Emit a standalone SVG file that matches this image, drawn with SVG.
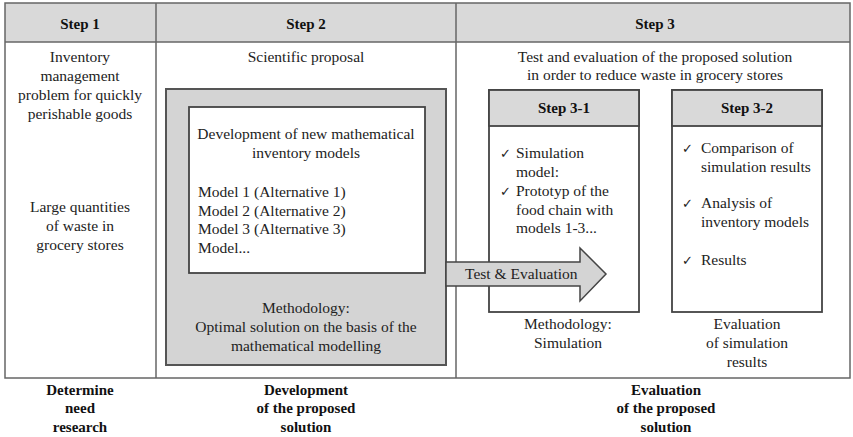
<svg xmlns="http://www.w3.org/2000/svg" width="853" height="437" viewBox="0 0 853 437">
<style>
text{font-family:"Liberation Serif","Times New Roman",serif;font-size:15.5px;fill:#222}
.c{text-anchor:middle}
.b{font-weight:bold;font-size:15px;fill:#111}
.ck{font-family:"DejaVu Sans",sans-serif;font-size:13px}
.line{stroke:#666;stroke-width:1.5;fill:none}
.box{fill:#fff;stroke:#444;stroke-width:1.8}
.hdr{fill:#d9d9d9;stroke:#444;stroke-width:1.8}
</style>
<rect width="853" height="437" fill="#fff"/>
<g id="table">
<rect x="5" y="3" width="845" height="39" fill="#d9d9d9"/>
<rect x="5" y="3" width="845" height="375" class="line"/>
<line x1="5" y1="42" x2="850" y2="42" class="line"/>
<line x1="156" y1="3" x2="156" y2="378" class="line"/>
<line x1="456" y1="3" x2="456" y2="378" class="line"/>
<text x="80" y="29" class="c b">Step 1</text>
<text x="306" y="29" class="c b">Step 2</text>
<text x="655" y="29" class="c b">Step 3</text>
</g>
<g id="step1">
<text class="c"><tspan x="80" y="62">Inventory</tspan><tspan x="80" y="81">management</tspan><tspan x="80" y="100">problem for quickly</tspan><tspan x="80" y="119">perishable goods</tspan></text>
<text class="c"><tspan x="80" y="212">Large quantities</tspan><tspan x="80" y="231">of waste in</tspan><tspan x="80" y="250">grocery stores</tspan></text>
</g>
<g id="step2">
<text class="c" x="306" y="62">Scientific proposal</text>
<rect x="166" y="89" width="280" height="276" fill="#d4d4d4" stroke="#555" stroke-width="2"/>
<text class="c"><tspan x="306" y="313">Methodology:</tspan><tspan x="306" y="332">Optimal solution on the basis of the</tspan><tspan x="306" y="351">mathematical modelling</tspan></text>
</g>
<g id="models">
<rect x="189" y="107" width="236" height="166" class="box"/>
<text class="c"><tspan x="306" y="139">Development of new mathematical</tspan><tspan x="306" y="158">inventory models</tspan></text>
<text><tspan x="198" y="197">Model 1 (Alternative 1)</tspan><tspan x="198" y="215.5">Model 2 (Alternative 2)</tspan><tspan x="198" y="234">Model 3 (Alternative 3)</tspan><tspan x="198" y="252.5">Model...</tspan></text>
</g>
<g id="step3">
<text class="c"><tspan x="655" y="62">Test and evaluation of the proposed solution</tspan><tspan x="655" y="80">in order to reduce waste in grocery stores</tspan></text>
</g>
<g id="step3-1">
<rect x="489" y="90" width="150" height="222" class="box"/>
<rect x="489" y="90" width="150" height="36" class="hdr"/>
<text x="564" y="113" class="c b">Step 3-1</text>
<text x="500" y="158" class="ck">&#10003;</text>
<text x="500" y="196" class="ck">&#10003;</text>
<text><tspan x="516" y="158">Simulation</tspan><tspan x="516" y="177">model:</tspan><tspan x="516" y="196">Prototyp of the</tspan><tspan x="516" y="215">food chain with</tspan><tspan x="516" y="233">models 1-3...</tspan></text>
<text class="c"><tspan x="568" y="329">Methodology:</tspan><tspan x="568" y="348">Simulation</tspan></text>
</g>
<g id="step3-2">
<rect x="672" y="90" width="150" height="222" class="box"/>
<rect x="672" y="90" width="150" height="36" class="hdr"/>
<text x="747" y="113" class="c b">Step 3-2</text>
<text x="682" y="153" class="ck">&#10003;</text>
<text x="682" y="208" class="ck">&#10003;</text>
<text x="682" y="265" class="ck">&#10003;</text>
<text><tspan x="701" y="153">Comparison of</tspan><tspan x="701" y="172">simulation results</tspan><tspan x="701" y="208">Analysis of</tspan><tspan x="701" y="227">inventory models</tspan><tspan x="701" y="265">Results</tspan></text>
<text class="c"><tspan x="747" y="329">Evaluation</tspan><tspan x="747" y="348">of simulation</tspan><tspan x="747" y="367">results</tspan></text>
</g>
<g id="connectors">
<polygon points="446,262 580,262 580,248 606,274 580,301 580,286 446,286" fill="#d4d4d4" stroke="#444" stroke-width="1.5"/>
<text x="465" y="279">Test &amp; Evaluation</text>
</g>
<g id="labels">
<text class="c b"><tspan x="80" y="395">Determine</tspan><tspan x="80" y="413">need</tspan><tspan x="80" y="432">research</tspan></text>
<text class="c b"><tspan x="306" y="395">Development</tspan><tspan x="306" y="413">of the proposed</tspan><tspan x="306" y="432">solution</tspan></text>
<text class="c b"><tspan x="666" y="395">Evaluation</tspan><tspan x="666" y="413">of the proposed</tspan><tspan x="666" y="432">solution</tspan></text>
</g>
</svg>
